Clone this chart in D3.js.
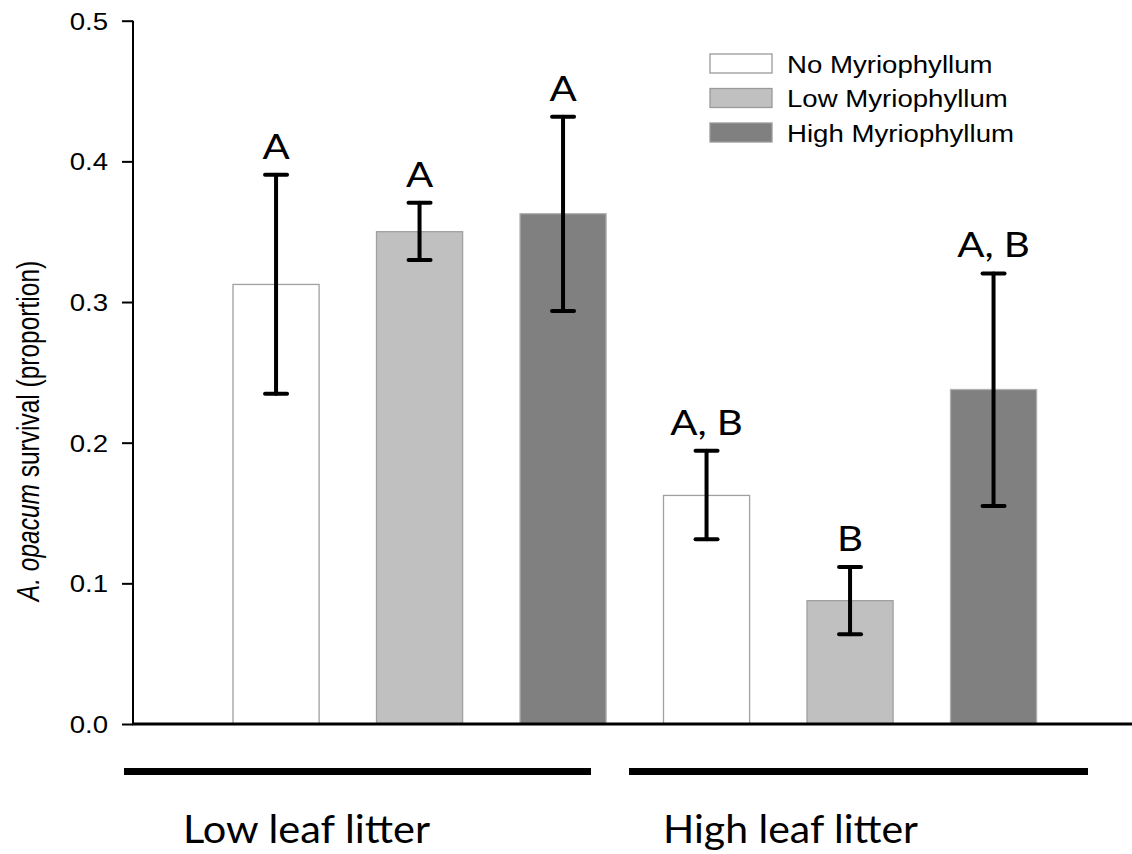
<!DOCTYPE html>
<html>
<head>
<meta charset="utf-8">
<script src="https://cdn.jsdelivr.net/npm/d3@7"></script>
<style>
  html, body { margin: 0; padding: 0; background: #fff; }
  svg { display: block; }
</style>
</head>
<body>
<svg id="chart" width="1132" height="854"></svg>
<script>
// ---- data ----
const groups = ["Low leaf litter", "High leaf litter"];
const treatments = ["No Myriophyllum", "Low Myriophyllum", "High Myriophyllum"];
const barIds = ["LL-No", "LL-Low", "LL-High", "HL-No", "HL-Low", "HL-High"];
const barTreatment = [0, 1, 2, 0, 1, 2];
const means = [0.3125, 0.350, 0.3628, 0.1625, 0.0877, 0.2378];
const upper = [0.3905, 0.3706, 0.4317, 0.1942, 0.1117, 0.3203];
const lower = [0.2347, 0.3298, 0.2937, 0.1313, 0.0638, 0.1550];
const letters = ["A", "A", "A", "A, B", "B", "A, B"];
const yTicks = [0, 0.1, 0.2, 0.3, 0.4, 0.5];

// ---- styles / layout ----
const fills = ["#ffffff", "#c0c0c0", "#808080"];
const strokes = ["#a0a0a0", "#a0a0a0", "#b0b0b0"];
const SX = 1.15; // horizontal stretch of the original figure text

const svg = d3.select("#chart");
const axisX = 133, plotRight = 1132, yTop = 20.7, yBottom = 724;

const y = d3.scaleLinear().domain([0, 0.5]).range([yBottom, yTop]);
const step = 143.5, po = 0.4;
const x = d3.scaleBand().domain(barIds)
  .range([233 - step * po, 233 - step * po + step * (6 - 0.4 + 2 * po)])
  .paddingInner(0.4).paddingOuter(po);

// bars
svg.append("g").selectAll("rect").data(barIds).join("rect")
  .attr("x", d => x(d))
  .attr("y", (d, i) => y(means[i]))
  .attr("width", x.bandwidth())
  .attr("height", (d, i) => y(0) - y(means[i]))
  .attr("fill", (d, i) => fills[barTreatment[i]])
  .attr("stroke", (d, i) => strokes[barTreatment[i]])
  .attr("stroke-width", 1.3);

// error bars
const eb = svg.append("g").attr("stroke", "#000").attr("stroke-width", 4).attr("stroke-linecap", "round");
barIds.forEach((d, i) => {
  const cx = x(d) + x.bandwidth() / 2;
  eb.append("line").attr("x1", cx).attr("x2", cx).attr("y1", y(upper[i])).attr("y2", y(lower[i]));
  eb.append("line").attr("x1", cx - 11).attr("x2", cx + 11).attr("y1", y(upper[i])).attr("y2", y(upper[i]));
  eb.append("line").attr("x1", cx - 11).attr("x2", cx + 11).attr("y1", y(lower[i])).attr("y2", y(lower[i]));
});

// letters
svg.append("g").selectAll("text").data(barIds).join("text")
  .attr("transform", (d, i) => `translate(${x(d) + x.bandwidth() / 2},${y(upper[i]) - 16}) scale(${SX},1)`)
  .attr("text-anchor", "middle")
  .attr("font-family", "Lato, 'Open Sans', sans-serif")
  .attr("font-size", 35)
  .attr("fill", "#000")
  .text((d, i) => letters[i]);

// y axis
const yAxis = d3.axisLeft(y).tickValues(yTicks).tickFormat(d3.format(".1f")).tickSize(11).tickSizeOuter(0);
const gy = svg.append("g").attr("transform", `translate(${axisX},0)`).call(yAxis);
gy.select(".domain").attr("stroke", "#000").attr("stroke-width", 2)
  .attr("d", `M0,${yTop}V${yBottom}`);
gy.selectAll(".tick line").attr("stroke", "#000").attr("stroke-width", 2);
gy.selectAll(".tick text").remove();
gy.selectAll(".tick").append("text")
  .attr("transform", `translate(-25,8.5) scale(${SX},1)`)
  .attr("text-anchor", "end")
  .attr("font-family", "'Liberation Sans', Arial, sans-serif")
  .attr("font-size", 24)
  .attr("fill", "#000")
  .text(d => d3.format(".1f")(d));

// x axis baseline
svg.append("line").attr("x1", axisX - 1).attr("x2", plotRight)
  .attr("y1", y(0)).attr("y2", y(0)).attr("stroke", "#000").attr("stroke-width", 3);

// y axis title
const yt = svg.append("text")
  .attr("transform", `translate(39,${(262 + 600) / 2}) scale(1.3,1) rotate(-90)`)
  .attr("text-anchor", "middle")
  .attr("font-family", "'Liberation Sans', Arial, sans-serif")
  .attr("font-size", 24.5)
  .attr("fill", "#000");
yt.append("tspan").attr("font-style", "italic").text("A. opacum");
yt.append("tspan").text(" survival (proportion)");

// legend
const lg = svg.append("g");
treatments.forEach((t, i) => {
  const yy = 54 + i * 34.5;
  lg.append("rect").attr("x", 710).attr("y", yy).attr("width", 62).attr("height", 19)
    .attr("fill", fills[i]).attr("stroke", "#9a9a9a").attr("stroke-width", 1.3);
  lg.append("text")
    .attr("transform", `translate(787,${yy + 18.5}) scale(${SX},1)`)
    .attr("font-family", "'Liberation Sans', Arial, sans-serif")
    .attr("font-size", 24)
    .attr("fill", "#000")
    .text(t);
});

// group bars and labels
const groupLines = [[124, 591], [629, 1088]];
const groupLabelX = [183, 663];
const groupLabelW = [247, 255];
groups.forEach((g, i) => {
  svg.append("rect").attr("x", groupLines[i][0]).attr("y", 768)
    .attr("width", groupLines[i][1] - groupLines[i][0]).attr("height", 7).attr("fill", "#000");
  svg.append("text").attr("x", groupLabelX[i]).attr("y", 843)
    .attr("font-family", "Lato, 'Open Sans', sans-serif")
    .attr("font-size", 39)
    .attr("textLength", groupLabelW[i])
    .attr("lengthAdjust", "spacingAndGlyphs")
    .attr("fill", "#000")
    .text(g);
});
</script>
</body>
</html>
